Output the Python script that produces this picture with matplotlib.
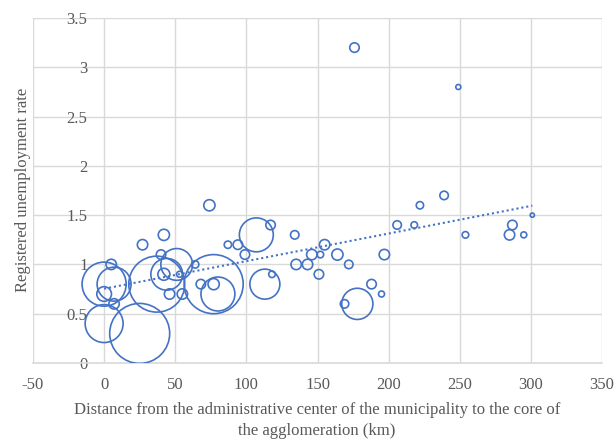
import numpy as np
import matplotlib
matplotlib.use("Agg")
import matplotlib.pyplot as plt
from matplotlib.ticker import FuncFormatter

# distance to agglomeration core (km), unemployment rate, bubble size (relative)
distance = [0, 25, 0, 7, 0, 7, 5, 37, 42, 44, 51, 46, 55, 53, 64, 40, 42, 27,
            74, 77, 80, 68, 77, 87, 94, 99, 107, 117, 113, 118, 134, 135, 143,
            146, 152, 155, 164, 151, 172, 176, 178, 169, 188, 195, 197, 206,
            218, 222, 239, 249, 254, 287, 285, 295, 301]
unemployment = [0.4, 0.3, 0.8, 0.8, 0.7, 0.6, 1.0, 0.8, 0.9, 0.9, 1.0, 0.7, 0.7,
                0.9, 1.0, 1.1, 1.3, 1.2, 1.6, 0.8, 0.7, 0.8, 0.8, 1.2, 1.2, 1.1,
                1.3, 1.4, 0.8, 0.9, 1.3, 1.0, 1.0, 1.1, 1.1, 1.2, 1.1, 0.9, 1.0,
                3.2, 0.6, 0.6, 0.8, 0.7, 1.1, 1.4, 1.4, 1.6, 1.7, 2.8, 1.3, 1.4,
                1.3, 1.3, 1.5]
bubble = [40, 100, 54, 32, 6, 3, 3, 87, 4, 28, 28, 3, 3, 1, 1.5, 2.5, 3.5, 3,
          3.5, 97, 32, 2.5, 3.5, 1.5, 2.5, 2.5, 32, 2.5, 25, 1.2, 2, 3, 3,
          3, 1.2, 3, 3.5, 2.5, 2, 2.5, 27, 2, 2.5, 1, 3, 2, 1.2, 1.5, 2, 0.7,
          1.2, 2.5, 3, 1, 0.5]

x_ticks = [-50, 0, 50, 100, 150, 200, 250, 300, 350]
y_ticks = [0, 0.5, 1, 1.5, 2, 2.5, 3, 3.5]

plt.rcParams['font.family'] = ['Liberation Serif', 'DejaVu Serif']
plt.rcParams['axes.unicode_minus'] = False

blue = '#4472C4'
grey_text = '#595959'
grid_col = '#D9D9D9'

fig = plt.figure(figsize=(6.14, 4.42), dpi=100)
ax = fig.add_axes([33 / 614, 1 - 363 / 442, (602 - 33) / 614, (363 - 18) / 442])

x = np.array(distance, dtype=float)
y = np.array(unemployment, dtype=float)
v = np.array(bubble, dtype=float)
sizes = (0.72 * 60) ** 2 * v / v.max()

ax.scatter(x, y, s=sizes, facecolors='none', edgecolors=blue, linewidths=1.2, zorder=3)

# linear trendline
k, b = np.polyfit(x, y, 1)
xt = np.array([x.min(), x.max()])
ax.plot(xt, k * xt + b, color=blue, lw=1.5, linestyle=(0, (1, 1.4)), zorder=2)

ax.set_xlim(-50, 350)
ax.set_ylim(0, 3.5)
ax.set_xticks(x_ticks)
ax.set_yticks(y_ticks)
fmt = FuncFormatter(lambda val, pos: '%g' % val)
ax.xaxis.set_major_formatter(fmt)
ax.yaxis.set_major_formatter(fmt)

ax.grid(True, color=grid_col, lw=1)
ax.set_axisbelow(True)
for side in ['top', 'right', 'left']:
    ax.spines[side].set_visible(False)
ax.spines['left'].set_position(('data', 0))
ax.spines['bottom'].set_color(grid_col)
ax.spines['bottom'].set_linewidth(1.2)

ax.tick_params(axis='both', length=0, labelsize=12, labelcolor=grey_text)
ax.tick_params(axis='x', pad=10)
ax.tick_params(axis='y', pad=12)

fig.text(317 / 614, 1 - 402 / 442,
         'Distance from the administrative center of the municipality to the core of\nthe agglomeration (km)',
         ha='center', va='top', fontsize=12, color=grey_text, linespacing=1.4)
fig.text(23 / 614, 1 - 190 / 442, 'Registered unemployment rate', rotation=90,
         ha='center', va='center', fontsize=12, color=grey_text)

fig.savefig('out.png', dpi=100, facecolor='white')
